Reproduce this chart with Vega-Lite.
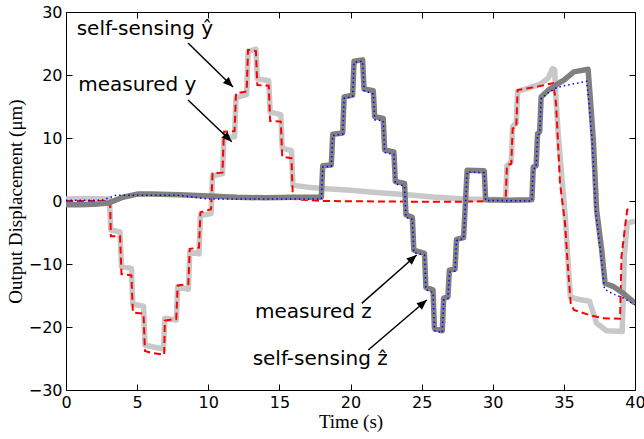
{
  "$schema": "https://vega.github.io/schema/vega-lite/v6.json",
  "autosize": "none",
  "width": 569,
  "height": 378,
  "padding": {"left": 66, "top": 12, "right": 9, "bottom": 49},
  "background": "white",
  "config": {
    "view": {"stroke": "black", "strokeWidth": 1},
    "axis": {
      "domain": false, "grid": false, "labelFlush": false,
      "tickColor": "black", "tickSize": -6, "tickWidth": 1,
      "labelFont": "DejaVu Sans", "labelFontSize": 16, "labelColor": "black",
      "titleFont": "Liberation Serif", "titleFontSize": 19, "titleFontWeight": "normal", "titleColor": "black"
    }
  },
  "datasets": {
    "y": [
      {"t":0,"v":0.3},{"t":1.5,"v":0.4},{"t":3.05,"v":0.3},{"t":3.15,"v":-4.6},{"t":3.8,"v":-4.9},{"t":3.9,"v":-10.4},{"t":4.6,"v":-10.7},{"t":4.7,"v":-16.4},{"t":5.45,"v":-16.7},{"t":5.55,"v":-22.9},{"t":6.85,"v":-23.5},{"t":6.95,"v":-18.6},{"t":7.75,"v":-18.9},{"t":7.85,"v":-13.7},{"t":8.6,"v":-14.0},{"t":8.7,"v":-8.1},{"t":9.35,"v":-8.4},{"t":9.45,"v":-2.3},{"t":10.2,"v":-2.0},{"t":10.3,"v":4.0},{"t":11.0,"v":4.3},{"t":11.1,"v":10.0},{"t":11.85,"v":10.2},{"t":11.95,"v":16.4},{"t":12.7,"v":16.9},{"t":12.8,"v":23.7},{"t":13.35,"v":24.1},{"t":13.45,"v":19.4},{"t":14.25,"v":19.1},{"t":14.35,"v":14.1},{"t":15.1,"v":13.7},{"t":15.2,"v":8.4},{"t":15.85,"v":8.0},{"t":15.95,"v":2.5},{"t":17,"v":2.2},{"t":18,"v":2.0},{"t":20,"v":1.7},{"t":22,"v":1.3},{"t":24,"v":1.0},{"t":26,"v":0.6},{"t":28,"v":0.3},{"t":30.9,"v":0.2},{"t":31.0,"v":5.6},{"t":31.3,"v":6.2},{"t":31.4,"v":11.8},{"t":31.65,"v":12.4},{"t":31.75,"v":17.4},{"t":32.5,"v":17.9},{"t":33.3,"v":18.5},{"t":33.9,"v":19.5},{"t":34.2,"v":21.0},{"t":34.35,"v":20.8},{"t":34.45,"v":16},{"t":34.6,"v":10.7},{"t":34.85,"v":3.9},{"t":35.1,"v":-2.5},{"t":35.3,"v":-9.9},{"t":35.45,"v":-15.2},{"t":36,"v":-15.6},{"t":36.8,"v":-15.9},{"t":37.3,"v":-19.4},{"t":38.0,"v":-20.6},{"t":39.1,"v":-20.7},{"t":39.25,"v":-8.8},{"t":39.45,"v":-3.5},{"t":40,"v":-3.2}
    ],
    "yhat": [
      {"t":0,"v":0},{"t":3.1,"v":0},{"t":3.15,"v":-5.6},{"t":3.8,"v":-5.6},{"t":3.9,"v":-11.6},{"t":4.6,"v":-11.8},{"t":4.7,"v":-17.7},{"t":5.45,"v":-17.9},{"t":5.55,"v":-23.8},{"t":6.0,"v":-24.1},{"t":6.9,"v":-24.4},{"t":6.95,"v":-19.0},{"t":7.75,"v":-18.7},{"t":7.85,"v":-13.4},{"t":8.6,"v":-13.2},{"t":8.7,"v":-7.6},{"t":9.35,"v":-7.4},{"t":9.45,"v":-1.8},{"t":10.2,"v":-1.3},{"t":10.3,"v":4.4},{"t":11.0,"v":4.5},{"t":11.1,"v":11.0},{"t":11.85,"v":11.1},{"t":11.95,"v":17.1},{"t":12.7,"v":17.4},{"t":12.8,"v":24.0},{"t":13.35,"v":23.8},{"t":13.45,"v":18.4},{"t":14.25,"v":18.3},{"t":14.35,"v":12.7},{"t":15.1,"v":12.6},{"t":15.2,"v":7.0},{"t":15.85,"v":6.8},{"t":15.95,"v":0.3},{"t":18,"v":0},{"t":24,"v":-0.1},{"t":28,"v":-0.1},{"t":30.9,"v":0},{"t":31.0,"v":5.7},{"t":31.3,"v":5.9},{"t":31.4,"v":11.5},{"t":31.65,"v":11.7},{"t":31.75,"v":17.6},{"t":33,"v":18.1},{"t":34.25,"v":18.7},{"t":34.45,"v":15.5},{"t":34.73,"v":2.8},{"t":35.08,"v":-3.5},{"t":35.3,"v":-11},{"t":35.48,"v":-16.2},{"t":35.7,"v":-17.3},{"t":36.8,"v":-18.1},{"t":37.75,"v":-18.6},{"t":38.95,"v":-18.7},{"t":39.05,"v":-8.8},{"t":39.45,"v":-1.4},{"t":39.7,"v":-1.0}
    ],
    "z": [
      {"t":0,"v":-0.6},{"t":1,"v":-0.6},{"t":2,"v":-0.5},{"t":3,"v":-0.3},{"t":4,"v":0.6},{"t":5,"v":1.1},{"t":6,"v":1.1},{"t":8,"v":1.0},{"t":10,"v":0.8},{"t":12,"v":0.6},{"t":14,"v":0.5},{"t":16,"v":0.6},{"t":17.95,"v":0.6},{"t":18.05,"v":5.6},{"t":18.65,"v":5.7},{"t":18.75,"v":10.6},{"t":19.45,"v":10.8},{"t":19.55,"v":16.5},{"t":20.15,"v":16.8},{"t":20.25,"v":22.2},{"t":20.85,"v":22.4},{"t":20.95,"v":17.8},{"t":21.6,"v":17.5},{"t":21.7,"v":13.4},{"t":22.3,"v":13.1},{"t":22.4,"v":8.1},{"t":23.05,"v":7.8},{"t":23.15,"v":3.1},{"t":23.8,"v":2.8},{"t":23.9,"v":-2.2},{"t":24.35,"v":-2.6},{"t":24.45,"v":-7.8},{"t":25.2,"v":-8.3},{"t":25.3,"v":-13.7},{"t":25.8,"v":-14.1},{"t":25.9,"v":-20.2},{"t":26.45,"v":-20.6},{"t":26.55,"v":-15.4},{"t":26.85,"v":-15.2},{"t":26.95,"v":-11.0},{"t":27.35,"v":-10.8},{"t":27.45,"v":-6.1},{"t":27.95,"v":-5.8},{"t":28.2,"v":4.9},{"t":29.4,"v":4.8},{"t":29.5,"v":0.2},{"t":31,"v":0.1},{"t":32.75,"v":0.2},{"t":32.85,"v":5.4},{"t":33.05,"v":5.6},{"t":33.15,"v":10.7},{"t":33.3,"v":11},{"t":33.4,"v":16.5},{"t":33.9,"v":17.6},{"t":34.5,"v":18.5},{"t":35.0,"v":19.2},{"t":35.7,"v":20.5},{"t":36.7,"v":20.9},{"t":36.85,"v":16.6},{"t":37.07,"v":9.7},{"t":37.3,"v":-1.4},{"t":37.66,"v":-7.8},{"t":37.9,"v":-13.1},{"t":38.5,"v":-13.6},{"t":39.2,"v":-14.7},{"t":40,"v":-16.2}
    ],
    "zhat": [
      {"t":0,"v":0.1},{"t":2.5,"v":0.1},{"t":3.5,"v":0.9},{"t":8,"v":0.9},{"t":10,"v":0.3},{"t":17.95,"v":0.3},{"t":18.05,"v":5.4},{"t":18.65,"v":5.5},{"t":18.75,"v":10.4},{"t":19.45,"v":10.6},{"t":19.55,"v":16.3},{"t":20.15,"v":16.6},{"t":20.25,"v":22.0},{"t":20.85,"v":22.2},{"t":20.95,"v":17.5},{"t":21.6,"v":17.0},{"t":21.7,"v":12.9},{"t":22.3,"v":12.7},{"t":22.4,"v":7.7},{"t":23.05,"v":7.4},{"t":23.15,"v":2.7},{"t":23.8,"v":2.4},{"t":23.9,"v":-2.6},{"t":24.35,"v":-2.9},{"t":24.45,"v":-8.2},{"t":25.2,"v":-8.6},{"t":25.3,"v":-14.1},{"t":25.8,"v":-14.5},{"t":25.9,"v":-20.6},{"t":26.45,"v":-20.9},{"t":26.55,"v":-15.7},{"t":26.85,"v":-15.5},{"t":26.95,"v":-11.3},{"t":27.35,"v":-11.1},{"t":27.45,"v":-6.3},{"t":27.95,"v":-6.0},{"t":28.2,"v":4.6},{"t":29.4,"v":4.5},{"t":29.5,"v":0.1},{"t":32.75,"v":0.0},{"t":32.85,"v":5.1},{"t":33.05,"v":5.3},{"t":33.15,"v":10.4},{"t":33.3,"v":10.7},{"t":33.4,"v":16.2},{"t":33.9,"v":17.2},{"t":34.5,"v":18.0},{"t":35.0,"v":18.3},{"t":35.7,"v":18.6},{"t":36.6,"v":19.0},{"t":36.75,"v":16.0},{"t":37.0,"v":9.2},{"t":37.25,"v":-2.0},{"t":37.6,"v":-8.3},{"t":37.85,"v":-14.0},{"t":38.5,"v":-14.8},{"t":39.2,"v":-15.4},{"t":40,"v":-16.5}
    ],
    "labels": [
      {"t":0.75,"v":26.35,"label":"self-sensing ŷ"},
      {"t":0.86,"v":17.4,"label":"measured y"},
      {"t":13.29,"v":-18.6,"label":"measured z"},
      {"t":13.12,"v":-26.0,"label":"self-sensing ẑ"}
    ],
    "arrows": [
      {"t":8.58,"v":25.08,"t2":11.74,"v2":18.10,"grp":"down"},
      {"t":8.58,"v":16.03,"t2":11.65,"v2":9.41,"grp":"down"},
      {"t":20.79,"v":-16.24,"t2":24.65,"v2":-8.57,"grp":"up"},
      {"t":21.25,"v":-23.65,"t2":25.36,"v2":-15.71,"grp":"up"}
    ]
  },
  "layer": [
    {
      "data": {"name": "y"},
      "mark": {"type": "line", "color": "#c8c8c8", "strokeWidth": 5.5, "strokeJoin": "round", "clip": true},
      "encoding": {
        "x": {"field": "t", "type": "quantitative", "scale": {"domain": [0, 40], "nice": false},
              "axis": {"orient": "bottom", "values": [0,5,10,15,20,25,30,35,40], "title": "Time (s)", "labelPadding": 10, "titlePadding": 2}},
        "y": {"field": "v", "type": "quantitative", "scale": {"domain": [-30, 30], "nice": false},
              "axis": {"orient": "left", "values": [-30,-20,-10,0,10,20,30], "title": "Output Displacement (μm)", "labelPadding": 10, "titlePadding": 3}}
      }
    },
    {
      "data": {"name": "yhat"},
      "mark": {"type": "line", "color": "#ff0000", "strokeWidth": 2, "strokeDash": [7, 4], "clip": true},
      "encoding": {
        "x": {"field": "t", "type": "quantitative", "axis": {"orient": "top", "values": [0,5,10,15,20,25,30,35,40], "labels": false, "title": null}},
        "y": {"field": "v", "type": "quantitative", "axis": {"orient": "right", "values": [-30,-20,-10,0,10,20,30], "labels": false, "title": null}}
      }
    },
    {
      "data": {"name": "z"},
      "mark": {"type": "line", "color": "#808080", "strokeWidth": 5.5, "strokeJoin": "round", "clip": true},
      "encoding": {
        "x": {"field": "t", "type": "quantitative", "axis": null},
        "y": {"field": "v", "type": "quantitative", "axis": null}
      }
    },
    {
      "data": {"name": "zhat"},
      "mark": {"type": "line", "color": "#0000ff", "strokeWidth": 1.5, "strokeDash": [1.5, 3], "clip": true},
      "encoding": {
        "x": {"field": "t", "type": "quantitative", "axis": null},
        "y": {"field": "v", "type": "quantitative", "axis": null}
      }
    },
    {
      "data": {"name": "labels"},
      "mark": {"type": "text", "font": "DejaVu Sans", "fontSize": 20, "align": "left", "baseline": "alphabetic", "color": "black"},
      "encoding": {
        "x": {"field": "t", "type": "quantitative", "axis": null},
        "y": {"field": "v", "type": "quantitative", "axis": null},
        "text": {"field": "label"}
      }
    },
    {
      "data": {"name": "arrows"},
      "mark": {"type": "rule", "color": "black", "strokeWidth": 1.5},
      "encoding": {
        "x": {"field": "t", "type": "quantitative", "axis": null},
        "y": {"field": "v", "type": "quantitative", "axis": null},
        "x2": {"field": "t2"},
        "y2": {"field": "v2"}
      }
    },
    {
      "data": {"name": "arrows"},
      "transform": [{"filter": "datum.grp === 'down'"}],
      "mark": {"type": "point", "shape": "M0,0L-1,-0.42L-1,0.42Z", "size": 400, "filled": true, "color": "black", "opacity": 1, "angle": 44},
      "encoding": {
        "x": {"field": "t2", "type": "quantitative", "axis": null},
        "y": {"field": "v2", "type": "quantitative", "axis": null}
      }
    },
    {
      "data": {"name": "arrows"},
      "transform": [{"filter": "datum.grp === 'up'"}],
      "mark": {"type": "point", "shape": "M0,0L-1,-0.42L-1,0.42Z", "size": 400, "filled": true, "color": "black", "opacity": 1, "angle": -41},
      "encoding": {
        "x": {"field": "t2", "type": "quantitative", "axis": null},
        "y": {"field": "v2", "type": "quantitative", "axis": null}
      }
    }
  ],
  "resolve": {"axis": {"x": "independent", "y": "independent"}}
}
